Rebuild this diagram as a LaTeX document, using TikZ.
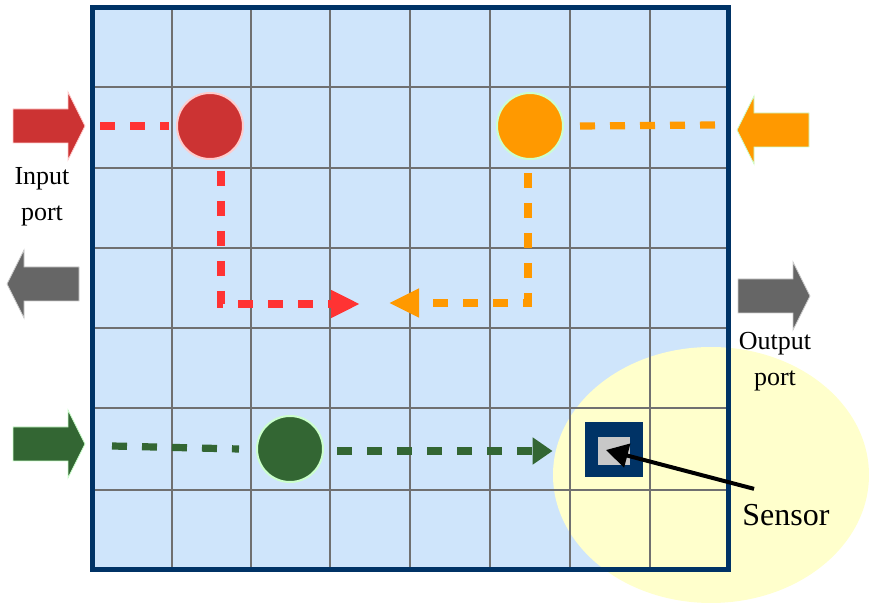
\documentclass[tikz,border=0pt]{standalone}
\usepackage{fontspec}
\setmainfont{Liberation Serif}
\usetikzlibrary{arrows.meta}
\definecolor{cellblue}{HTML}{CFE5FB}
\definecolor{framenavy}{HTML}{003366}
\definecolor{gridgray}{HTML}{707070}
\definecolor{zoneyellow}{HTML}{FFFFCC}
\definecolor{redfill}{HTML}{CC3333}
\definecolor{redflow}{HTML}{FF3333}
\definecolor{orangefill}{HTML}{FF9900}
\definecolor{greenfill}{HTML}{336633}
\definecolor{portgray}{HTML}{666666}
\definecolor{chipgray}{HTML}{C8C8C8}
\definecolor{pinkline}{HTML}{FFCCCC}
\definecolor{mintline}{HTML}{CCFFCC}
\begin{document}
\begin{tikzpicture}[x=0.5pt, y=-0.5pt,
  drop/.style={circle, inner sep=0pt, minimum size=33pt, line width=1pt},
  flow/.style={line width=3.6pt, dash pattern=on 7.5pt off 7.5pt},
  flowtip/.style 2 args={-{Triangle[length=#1, width=#2]}},
  portarrow/.pic={\path[pic actions] (0,-17) -- (55,-17) -- (55,-34) -- (72,0) -- (55,34) -- (55,17) -- (0,17) -- cycle;},
  portlabel/.style={font=\fontsize{13}{18}\selectfont, align=center, inner sep=0pt}]
\useasboundingbox (0,0) rectangle (869,604);
\fill[cellblue] (92,8) rectangle (728,570);
\fill[zoneyellow] (711,475) ellipse [x radius=158, y radius=128];
\foreach \gx in {172,251,330,410,490,570,650}
  \draw[gridgray, line width=1pt] (\gx,8) -- (\gx,570);
\foreach \gy in {87,168,248,328,408,490}
  \draw[gridgray, line width=1pt] (92,\gy) -- (728,\gy);
\draw[framenavy, line width=2.5pt] (92,8) rectangle (728,570);

\pic[fill=redfill, draw=pinkline] at (13,126) {portarrow};
\pic[fill=orangefill, draw=mintline, xscale=-1] at (809,130) {portarrow};
\pic[fill=portgray, draw=gray!40, xscale=-1] at (79,284) {portarrow};
\pic[fill=portgray, draw=gray!40] at (738,296) {portarrow};
\pic[fill=greenfill, draw=mintline] at (13,444) {portarrow};

\node[portlabel] (inlbl) at (42,197) {Input\\port};
\node[portlabel] (outlbl) at (775,362) {Output\\port};

\node[drop, fill=redfill, draw=pinkline] (red) at (210,126) {};
\node[drop, fill=orangefill, draw=mintline] (orange) at (530,126) {};
\node[drop, fill=greenfill, draw=mintline] (green) at (290,449) {};
\node[fill=framenavy, minimum width=29pt, minimum height=27.5pt, inner sep=0pt] (sensor) at (614,450) {};
\node[fill=chipgray, minimum width=16pt, minimum height=14pt, inner sep=0pt] (chip) at (614,451) {};

\coordinate (redin) at (100,126);
\coordinate (redend) at (360,304);
\coordinate (orangein) at (715,125);
\coordinate (orangeend) at (389,303);
\coordinate (greenin) at (112,446);

\draw[flow, redflow] (redin) -- ([xshift=-3.5pt]red.west);
\draw[flow, redflow, flowtip={14.5pt}{13pt}] ([xshift=5.5pt, yshift=-5.5pt]red.south) |- (redend);
\draw[flow, orangefill] (orangein) -- ([xshift=7.5pt]orange.east);
\draw[flow, orangefill, flowtip={15pt}{13.5pt}] ([xshift=-1pt, yshift=-6.5pt]orange.south) |- (orangeend);
\draw[flow, greenfill] (greenin) -- ([xshift=-8.5pt]green.west);
\draw[flow, greenfill, flowtip={10pt}{13pt}] ([xshift=6.5pt, yshift=-1pt]green.east) -- ([xshift=-16pt, yshift=-0.5pt]sensor.west);

\node[font=\fontsize{16}{19}\selectfont, inner sep=0pt] (senslbl) at (786,515) {Sensor};
\draw[line width=2pt, -{Triangle[length=11pt, width=12pt]}] ([shift={(12,-15)}]senslbl.north west) -- ([xshift=-4pt]sensor.center);
\end{tikzpicture}
\end{document}
